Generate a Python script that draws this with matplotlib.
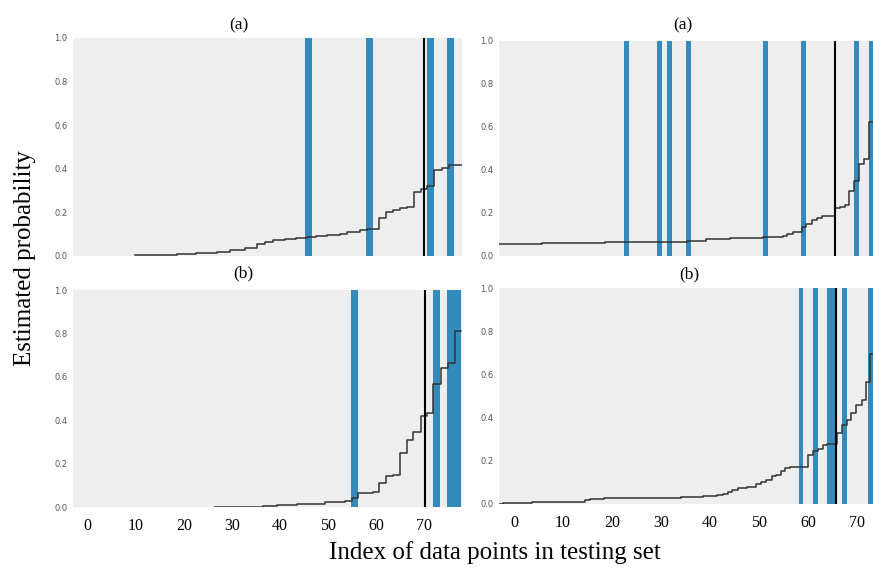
import numpy as np
import matplotlib
matplotlib.use('Agg')
import matplotlib.pyplot as plt

#Sorted estimated probabilities (step curves)
tl_x = [9.8, 18.5, 22.6, 26.8, 29.6, 32.7, 35.3, 36.9, 38.5, 41.0, 43.3, 45.6, 47.6, 49.7, 52.4,
        53.9, 56.7, 58.1, 60.7, 62.1, 63.6, 65.0, 66.4, 67.9, 69.3, 70.6, 72.1, 73.7, 75.1, 77.9]
tl_y = [0.003, 0.008, 0.014, 0.02, 0.028, 0.035, 0.055, 0.066, 0.072, 0.077, 0.083, 0.086, 0.09, 0.095, 0.10,
        0.111, 0.119, 0.125, 0.174, 0.203, 0.211, 0.22, 0.226, 0.294, 0.309, 0.321, 0.394, 0.402, 0.416, 0.416]

tr_x = [-3.06, 5.7, 18.6, 35.3, 39.2, 44.1, 50.8, 52.9, 54.9, 55.7, 56.9, 58.8, 59.6, 60.8, 61.8, 62.9,
        65.5, 66.5, 67.6, 68.4, 69.4, 70.4, 71.4, 72.4, 73.3]
tr_y = [0.058, 0.062, 0.066, 0.072, 0.077, 0.082, 0.086, 0.090, 0.095, 0.103, 0.111, 0.136, 0.151, 0.168, 0.177, 0.186,
        0.222, 0.226, 0.237, 0.304, 0.348, 0.428, 0.450, 0.621, 0.621]

bl_x = [26.5, 36.5, 39.3, 43.5, 49.4, 53.5, 55.1, 56.3, 59.3, 60.7, 62.1, 63.5, 65.0, 66.5, 67.8,
        69.3, 70.6, 71.9, 73.5, 74.9, 76.5, 77.6]
bl_y = [0.0, 0.005, 0.009, 0.016, 0.023, 0.03, 0.042, 0.065, 0.069, 0.111, 0.143, 0.148, 0.249, 0.308, 0.346,
        0.42, 0.431, 0.565, 0.64, 0.665, 0.811, 0.811]

br_x = [-3.06, -2.2, 3.6, 14.5, 15.5, 18.4, 23.3, 34.0, 38.5, 41.4, 42.7, 43.7, 44.6, 45.7, 47.5, 49.4,
        50.4, 51.4, 52.6, 53.5, 54.5, 55.4, 56.3, 60.1, 61.1, 62.1, 63.0, 63.9, 65.9, 66.9, 67.9, 68.9,
        69.9, 71.0, 71.8, 72.7, 73.3]
br_y = [0.0015, 0.005, 0.009, 0.017, 0.022, 0.026, 0.029, 0.032, 0.035, 0.042, 0.048, 0.056, 0.066, 0.076, 0.080, 0.093,
        0.103, 0.110, 0.128, 0.136, 0.151, 0.167, 0.171, 0.225, 0.244, 0.256, 0.275, 0.279, 0.329, 0.367, 0.390, 0.421,
        0.458, 0.483, 0.563, 0.696, 0.696]

#Indices of positive points (blue bars) and the threshold line
tl_pos = [45.9, 58.7, 71.3, 75.6]
tr_pos = [23.0, 29.8, 31.7, 35.6, 51.3, 59.1, 69.9, 73.0]
bl_pos = [55.6, 72.6, 75.6, 77.0]
br_pos = [58.6, 61.6, 64.5, 65.2, 67.5, 72.7]
tl_cut = 69.9
tr_cut = 65.5
bl_cut = 70.1
br_cut = 65.8

titles = ['(a)', '(a)', '(b)', '(b)']
x_ticks = [0, 10, 20, 30, 40, 50, 60, 70]
y_ticks = [0.0, 0.2, 0.4, 0.6, 0.8, 1.0]


def draw_panel(ax, sx, sy, pos, cut, width, xlim, show_x):
    ax.set_facecolor('#eeeeee')
    ax.bar(pos, 1.0, width=width, color='#348ABD', linewidth=0)
    ax.step(sx, sy, where='post', color='#333333', linewidth=1.1)
    ax.axvline(cut, color='black', linewidth=1.5)
    ax.set_xlim(xlim)
    ax.set_ylim(0, 1)
    for s in ax.spines.values():
        s.set_visible(False)
    ax.set_yticks(y_ticks)
    ax.set_yticklabels(['%.1f' % v for v in y_ticks], fontsize=6, color='#555555')
    ax.tick_params(axis='y', length=0, pad=4)
    if show_x:
        ax.set_xticks(x_ticks)
        ax.set_xticklabels([str(v) for v in x_ticks], fontsize=11.5, family='Liberation Serif')
        ax.tick_params(axis='x', length=0, pad=8)
    else:
        ax.set_xticks([])


def main():
    fig = plt.figure(figsize=(8.73, 5.70), dpi=100)

    #Axes boxes in figure fractions
    ax_tl = fig.add_axes([0.0836, 0.5509, 0.4456, 0.3825])
    ax_tr = fig.add_axes([0.5716, 0.5509, 0.4284, 0.3772])
    ax_bl = fig.add_axes([0.0836, 0.1105, 0.4456, 0.3807])
    ax_br = fig.add_axes([0.5716, 0.1158, 0.4284, 0.3789])

    left_lim = (-3.1, 77.9)
    right_lim = (-3.06, 73.3)
    draw_panel(ax_tl, tl_x, tl_y, tl_pos, tl_cut, 1.45, left_lim, False)
    draw_panel(ax_tr, tr_x, tr_y, tr_pos, tr_cut, 1.0, right_lim, False)
    draw_panel(ax_bl, bl_x, bl_y, bl_pos, bl_cut, 1.45, left_lim, True)
    draw_panel(ax_br, br_x, br_y, br_pos, br_cut, 1.0, right_lim, True)

    #Panel titles (placed where they sit in the picture)
    title_pos = [(239, 25), (683, 25), (243, 273), (689, 274)]
    for t, (px, py) in zip(titles, title_pos):
        fig.text(px / 873, 1 - py / 570, t, ha='center', va='center',
                 fontsize=12.5, family='Liberation Serif')

    fig.text(495 / 873, 1 - 553 / 570, 'Index of data points in testing set', ha='center', va='center',
             fontsize=18, family='Liberation Serif')
    fig.text(25 / 873, 1 - 258 / 570, 'Estimated probability', ha='center', va='center',
             rotation=90, fontsize=18, family='Liberation Serif')

    fig.savefig('out.png', dpi=100)


if __name__ == '__main__':
    main()
